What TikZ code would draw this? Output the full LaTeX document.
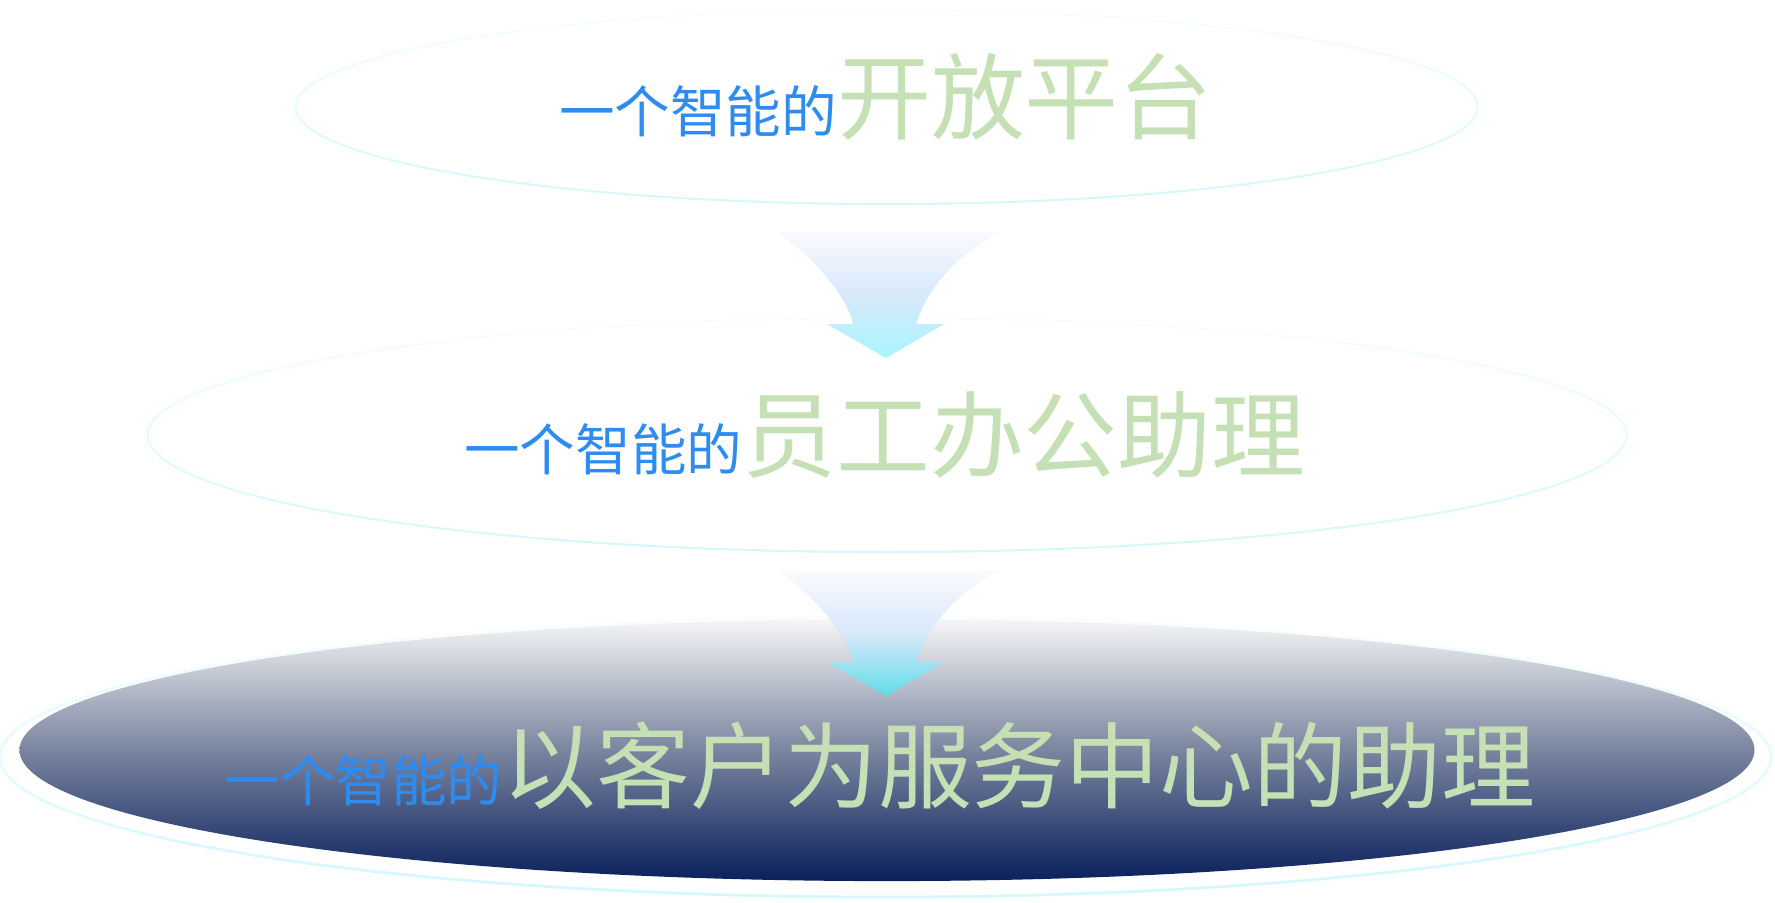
\documentclass[tikz,border=0pt]{standalone}
\usepackage{fontspec}
\usepackage{xcolor}
\usepackage{tikz}
\usetikzlibrary{shapes.geometric, fadings}
\newfontfamily\cjk{Noto Sans CJK SC}
\definecolor{ringcol}{HTML}{D4F8FC}
\definecolor{leadblue}{HTML}{2E8CF0}
\definecolor{goalgreen}{HTML}{C5E0B4}
\definecolor{discTop}{HTML}{F6F6F6}
\definecolor{discMid}{HTML}{7A859F}
\definecolor{discBot}{HTML}{0A205C}
\definecolor{arrowTop}{HTML}{FAFAFF}
\definecolor{arrowMid}{HTML}{D8E8FB}
\definecolor{arrowOne}{HTML}{A8F5FC}
\definecolor{arrowTwo}{HTML}{62DCE8}
\tikzfading[name=ringfade, top color=transparent!85, bottom color=transparent!0]
\newcommand{\goaltext}[2]{{\color{goalgreen}\fontsize{#1}{#1}\selectfont #2}}

\begin{document}
\begin{tikzpicture}[x=0.01cm,y=-0.01cm,thin]
            \tikzset{ring/.style={ellipse, draw=ringcol, line width=0.6pt, inner sep=0pt, path fading=ringfade},
                     stagetext/.style={anchor=base, inner sep=0pt, text=leadblue, font=\cjk\fontsize{15.8pt}{16pt}\selectfont},
                     pics/flowarrow/.style={code={
                        \shade[top color=arrowTop, bottom color=#1, middle color=arrowMid]
                            (-109,0) .. controls (-66,30) and (-38,68) .. (-33,92) -- (-59,92) -- (0,126)
                            -- (58,92) -- (30,92) .. controls (39,63) and (64,26) .. (114,0) -- cycle;}}}
            \useasboundingbox (0,0) rectangle (1775,902);
            \node[ring, minimum width=11.82cm, minimum height=1.94cm] (A) at (887,107) {};
            \node[ring, minimum width=14.78cm, minimum height=2.34cm] (B) at (887,435) {};
            \node[ring, line width=0.8pt, minimum width=17.72cm, minimum height=2.80cm] (C) at (887,757) {};
            \node[ellipse, inner sep=0pt, top color=discTop, bottom color=discBot, middle color=discMid,
                  minimum width=17.34cm, minimum height=2.62cm] (D) at (887,750) {};
            \coordinate (AB) at (886,232);
            \coordinate (BC) at (886,570);
            \pic at (AB) {flowarrow=arrowOne};
            \pic at (BC) {flowarrow=arrowTwo};
            \node[stagetext] (a) at (886,132) {一个智能的\goaltext{26.7pt}{开放平台}};
            \node[stagetext] (b) at (885,470) {一个智能的\goaltext{26.7pt}{员工办公助理}};
            \node[stagetext] (c) at (880,801) {一个智能的\goaltext{26.7pt}{以客户为服务中心的助理}};
        \end{tikzpicture}
\end{document}
